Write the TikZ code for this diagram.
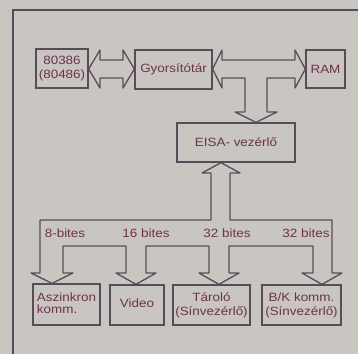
\documentclass[tikz,border=0pt]{standalone}
\usepackage{fontspec}
\setmainfont[FakeStretch=1.12]{Liberation Sans}
\definecolor{bg}{RGB}{201,198,194}
\definecolor{ln}{RGB}{88,76,90}
\definecolor{tx}{RGB}{108,50,76}
\begin{document}
\begin{tikzpicture}[x=1pt,y=-1pt,
  box/.style={draw=ln,line width=1.3pt,inner sep=0pt,text=tx,align=center,
    font=\fontsize{12}{14}\selectfont},
  bus/.style={draw=ln,line width=1.3pt,line join=round},
  lab/.style={text=tx,inner sep=0pt,font=\fontsize{12}{14}\selectfont}]
\fill[bg] (0,0) rectangle (358,354);
\useasboundingbox (0,0) rectangle (358,354);
% frame
\draw[ln,line width=2pt] (358,10) -- (13,10) -- (13,354);
% boxes
\node[box,minimum width=52pt,minimum height=39pt] (cpu) at (62,68.5) {80386\\(80486)};
\node[box,minimum width=77pt,minimum height=39pt] (cache) at (173.5,69.5) {Gyorsítótár};
\node[box,minimum width=39pt,minimum height=38pt] (ram) at (325.5,69) {RAM};
\node[box,minimum width=118pt,minimum height=39pt] (eisa) at (236,142.5) {EISA- vezérlő};
\node[box,minimum width=67pt,minimum height=41pt,align=left] (async) at (66.5,304.5) {\raisebox{3pt}{\shortstack[l]{Aszinkron\\komm.}}};
\node[box,minimum width=54pt,minimum height=40pt] (video) at (137,305) {\raisebox{4pt}{Video}};
\node[box,minimum width=77pt,minimum height=40pt] (taro) at (211.5,305) {Tároló\\(Sínvezérlő)};
\node[box,minimum width=79pt,minimum height=40pt] (bk) at (301.5,305) {B/K komm.\\(Sínvezérlő)};
% cpu <-> cache
\draw[bus] (cpu.east |- 0,69) -- (100,50) -- (100,60) -- (123,60) -- (123,50)
  -- (cache.west |- 0,69) -- (123,88) -- (123,78) -- (100,78) -- (100,88) -- cycle;
% cache <-> ram with branch to eisa
\draw[bus] (cache.east |- 0,69) -- (222,50) -- (222,60) -- (295,60) -- (295,50)
  -- (ram.west |- 0,69) -- (295,88) -- (295,78) -- (267,78) -- (267,112) -- (277,112)
  -- (eisa.north -| 256,0) -- (235,112) -- (245,112) -- (245,78) -- (222,78) -- (222,88) -- cycle;
% eisa bus to peripherals
\draw[bus] (eisa.south -| 221,0) -- (240,173) -- (230,173) -- (230,220) -- (332,220)
  -- (332,273) -- (342,273) -- (bk.north -| 322,0) -- (302,273) -- (313,273) -- (313,246)
  -- (229,246) -- (229,273) -- (239,273) -- (taro.north -| 219,0) -- (199,273) -- (209,273) -- (209,246)
  -- (146,246) -- (146,273) -- (156,273) -- (video.north -| 136,0) -- (116,273) -- (126,273) -- (126,246)
  -- (63,246) -- (63,273) -- (73,273) -- (async.north -| 52,0) -- (31,273) -- (40,273) -- (40,220)
  -- (211,220) -- (211,173) -- (202,173) -- cycle;
% labels
\node[lab] (l1) at (65,233) {8-bites};
\node[lab] (l2) at (146,233) {16 bites};
\node[lab] (l3) at (227,233) {32 bites};
\node[lab] (l4) at (306,233) {32 bites};
\end{tikzpicture}
\end{document}
